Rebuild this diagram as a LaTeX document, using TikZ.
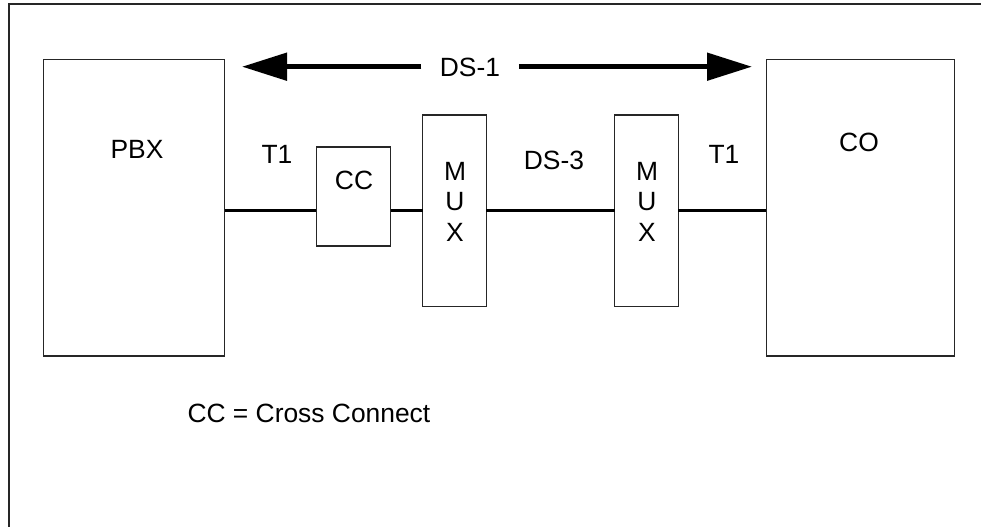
\documentclass[tikz,border=0pt]{standalone}
\usepackage{fontspec}
\setmainfont{Liberation Sans}
\usetikzlibrary{arrows.meta}
\begin{document}
\begin{tikzpicture}[x=1pt,y=-1pt,
  box/.style={draw=black!85, line width=1.4pt, fill=white, inner sep=0pt, outer sep=0pt},
  lbl/.style={inner sep=0pt, outer sep=0pt, text height=18.8pt, text depth=0pt, font=\fontsize{26.4}{31}\selectfont},
  link/.style={draw=black, line width=2.4pt},
  bigarrow/.style={draw=black, line width=5pt, -{Triangle[length=45pt, width=27pt]}},
  frame/.style={draw=black!85, line width=1.8pt}]
\useasboundingbox (0,0) rectangle (981,527);
% frame (top and left only)
\coordinate (ftr) at (981,4);
\coordinate (ftl) at (8.7,4);
\coordinate (fbl) at (8.7,527);
\draw[frame] (ftr) -- (ftl) -- (fbl);
% boxes
\node[box, minimum width=181.4pt, minimum height=296.3pt] (pbx) at (134,207.9) {};
\node[box, minimum width=188.4pt, minimum height=296.3pt] (co) at (860.5,207.9) {};
\node[box, minimum width=74.4pt, minimum height=99pt] (cc) at (353.5,196.5) {};
\node[box, minimum width=63.6pt, minimum height=191.7pt] (mux1) at (454.5,210.8) {};
\node[box, minimum width=63.6pt, minimum height=191.7pt] (mux2) at (646.5,210.8) {};
% texts
\node[lbl] (tpbx) at (137,149.2) {PBX};
\node[lbl] (tco) at (859,142) {CO};
\node[lbl] (t1a) at (277,154) {T1};
\node[lbl] (t1b) at (724,154.3) {T1};
\node[lbl] (tcc) at (354,180.2) {CC};
\node[lbl] (ds3) at (554,160) {DS-3};
\node[lbl] (m1) at (455,171) {M};
\node[lbl] (u1) at (455,201.3) {U};
\node[lbl] (x1) at (455,232.5) {X};
\node[lbl] (m2) at (647,171) {M};
\node[lbl] (u2) at (647,201.3) {U};
\node[lbl] (x2) at (647,232.5) {X};
\node[lbl, anchor=west] (legend) at (187.5,412.8) {CC = Cross Connect};
% DS-1 arrow
\node[lbl, minimum width=97.5pt] (ds1) at (470,66.7) {DS-1};
\coordinate (ltip) at (242,66.7);
\coordinate (rtip) at (752,66.7);
\draw[bigarrow] (ds1.west) -- (ltip);
\draw[bigarrow] (ds1.east) -- (rtip);
% links
\coordinate (ly) at (0,210.5);
\draw[link] (pbx.east |- ly) -- (cc.west |- ly);
\draw[link] (cc.east |- ly) -- (mux1.west |- ly);
\draw[link] (mux1.east |- ly) -- (mux2.west |- ly);
\draw[link] (mux2.east |- ly) -- (co.west |- ly);
\end{tikzpicture}
\end{document}
